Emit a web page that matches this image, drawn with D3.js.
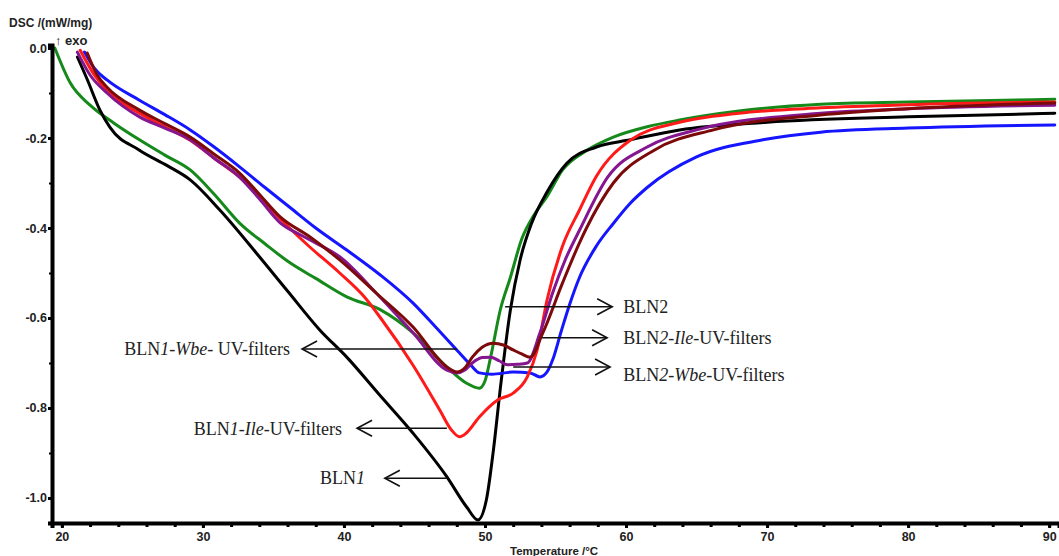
<!DOCTYPE html>
<html>
<head>
<meta charset="utf-8">
<script src="https://cdn.jsdelivr.net/npm/d3@7"></script>
<style>
  html, body { margin: 0; padding: 0; background: #fff; }
  svg { display: block; }
</style>
</head>
<body>
<svg id="chart" width="1059" height="556"></svg>
<script>
// ---------------- data ----------------
const xTickValues = [20, 30, 40, 50, 60, 70, 80, 90];
const yTickValues = [0.0, -0.2, -0.4, -0.6, -0.8, -1.0];

const blackT = [21.1, 21.8, 22.7, 23.4, 25.5, 27.5, 29.1, 31.2, 33.8, 36, 38.3, 40.2, 42.5, 44.9, 47.3, 48.7, 49.5, 50.1, 50.6, 51.1, 51.8, 52.5, 53.3, 54.4, 55.8, 57.9, 60.3, 63.8, 70, 80, 90.4];
const blackV = [-0.02, -0.07, -0.138, -0.176, -0.227, -0.262, -0.293, -0.36, -0.456, -0.54, -0.627, -0.687, -0.77, -0.856, -0.953, -1.02, -1.049, -1.004, -0.893, -0.753, -0.582, -0.47, -0.39, -0.32, -0.256, -0.22, -0.204, -0.182, -0.165, -0.153, -0.145];

const greenT = [19.5, 20.6, 22, 23.7, 25.5, 27.3, 29.1, 30.8, 32.6, 34.4, 36.2, 38, 40.2, 42.6, 44.9, 47.3, 48.7, 49.6, 50.0, 50.4, 51.1, 51.8, 52.6, 53.5, 54.4, 55.5, 57.2, 59.1, 61.5, 63.8, 68, 73.8, 80, 90.4];
const greenV = [0.0, -0.078, -0.127, -0.167, -0.204, -0.238, -0.271, -0.325, -0.389, -0.435, -0.478, -0.512, -0.553, -0.582, -0.633, -0.709, -0.745, -0.756, -0.74, -0.687, -0.58, -0.51, -0.425, -0.37, -0.33, -0.271, -0.228, -0.198, -0.175, -0.16, -0.14, -0.125, -0.12, -0.114];

const blueT = [21.6, 22.3, 23.2, 25.5, 27.3, 29.1, 30.8, 32.6, 34.4, 36.2, 38, 40.2, 42.6, 44.9, 46.5, 48.2, 49.0, 49.6, 50.5, 52, 53.2, 53.9, 54.4, 54.8, 55.4, 56, 56.7, 57.9, 59.1, 60.3, 61.5, 65, 69.7, 73.8, 80, 90.4];
const blueV = [-0.009, -0.045, -0.071, -0.116, -0.148, -0.182, -0.22, -0.264, -0.31, -0.355, -0.4, -0.449, -0.505, -0.567, -0.62, -0.678, -0.705, -0.722, -0.725, -0.72, -0.722, -0.731, -0.72, -0.693, -0.63, -0.57, -0.51, -0.44, -0.39, -0.345, -0.31, -0.242, -0.204, -0.187, -0.178, -0.171];

const redT = [21.3, 22.3, 23.2, 25.5, 27.3, 29.1, 30.8, 32.6, 34, 35.5, 37.5, 39.7, 41.5, 42.6, 44.9, 46.8, 47.6, 48.2, 48.7, 49.6, 50.9, 52, 53, 53.7, 54.4, 55.5, 56.7, 57.9, 60.3, 63.8, 68, 73.8, 80, 90.4];
const redV = [-0.005, -0.06, -0.095, -0.145, -0.175, -0.205, -0.245, -0.287, -0.33, -0.38, -0.44, -0.5, -0.555, -0.6, -0.705, -0.805, -0.848, -0.864, -0.855, -0.82, -0.782, -0.767, -0.731, -0.671, -0.56, -0.44, -0.36, -0.285, -0.205, -0.165, -0.145, -0.133, -0.126, -0.12];

const purpleT = [21.1, 22, 23.2, 25.5, 27.3, 29.1, 30.8, 32.6, 34, 35.5, 36.9, 37.8, 39.7, 42.3, 44.9, 47.3, 48, 48.6, 49.1, 49.8, 50.4, 51.0, 51.6, 52.3, 53, 53.9, 54.8, 55.7, 56.7, 58.7, 61.5, 65, 73.8, 80, 90.4];
const purpleV = [-0.009, -0.06, -0.1, -0.153, -0.178, -0.204, -0.245, -0.287, -0.335, -0.389, -0.415, -0.43, -0.464, -0.545, -0.633, -0.716, -0.722, -0.715, -0.7, -0.688, -0.687, -0.695, -0.704, -0.703, -0.7, -0.633, -0.544, -0.47, -0.405, -0.287, -0.22, -0.182, -0.145, -0.135, -0.127];

const maroonT = [21.8, 22.5, 23.2, 25.5, 27.3, 29.1, 30.8, 32.6, 34, 35.5, 37.6, 39.7, 42.3, 44.9, 47.3, 48, 48.6, 49.1, 49.8, 50.6, 51.3, 52, 52.6, 53.2, 54.1, 55.5, 56.7, 57.2, 59.1, 62, 66.2, 73.8, 80, 90.4];
const maroonV = [-0.011, -0.06, -0.087, -0.138, -0.168, -0.198, -0.236, -0.278, -0.325, -0.376, -0.42, -0.471, -0.545, -0.62, -0.709, -0.72, -0.71, -0.687, -0.665, -0.656, -0.66, -0.671, -0.68, -0.687, -0.633, -0.522, -0.433, -0.4, -0.3, -0.227, -0.182, -0.149, -0.135, -0.122];

// annotations: label parts [text, italic]; arrow from T0 to tip T1 at value v
const annoLabels = [
  [["BLN", false], ["2", false]],
  [["BLN", false], ["2-", true], ["Ile", true], ["-UV-filters", false]],
  [["BLN", false], ["2-", true], ["Wbe", true], ["-UV-filters", false]],
  [["BLN", false], ["1-", true], ["Wbe-", true], [" UV-filters", false]],
  [["BLN", false], ["1-", true], ["Ile", true], ["-UV-filters", false]],
  [["BLN", false], ["1", true]]
];
const annoFromT = [51.43, 54.05, 52.0, 48.0, 47.3, 47.3];
const annoTipT  = [59.02, 58.66, 58.87, 37.03, 40.93, 42.9];
const annoV     = [-0.575, -0.644, -0.709, -0.669, -0.845, -0.956];
const annoTextT = [59.8, 59.8, 59.8, 36.18, 39.87, 41.5];
const annoTextV = [-0.575, -0.644, -0.727, -0.669, -0.845, -0.956];

// ---------------- chart ----------------
const svg = d3.select("#chart");
const x = d3.scaleLinear().domain([19.3, 90.7]).range([52, 1059]);
const y = d3.scaleLinear().domain([0.0067, -1.0556]).range([45, 523]);

const series = [
  { t: greenT,  v: greenV,  color: "#15891a" },
  { t: blackT,  v: blackV,  color: "#000000" },
  { t: blueT,   v: blueV,   color: "#1515ff" },
  { t: redT,    v: redV,    color: "#ff1a1a" },
  { t: purpleT, v: purpleV, color: "#85168f" },
  { t: maroonT, v: maroonV, color: "#7d0a0a" }
];

const line = d3.line()
  .x(d => x(d[0]))
  .y(d => y(d[1]))
  .curve(d3.curveMonotoneX);

svg.append("g").selectAll("path")
  .data(series)
  .join("path")
  .attr("d", s => line(s.t.map((t, i) => [t, s.v[i]])))
  .attr("fill", "none")
  .attr("stroke", s => s.color)
  .attr("stroke-width", 3)
  .attr("stroke-linejoin", "round")
  .attr("stroke-linecap", "round");

// axes
const axisFont = "Arial, 'Liberation Sans', sans-serif";

const xMinor = d3.range(20, 91, 2);
const xAxisMinor = d3.axisBottom(x).tickValues(xMinor).tickSize(4).tickFormat("");
svg.append("g").attr("transform", "translate(0,523)").call(xAxisMinor)
  .call(g => g.select(".domain").remove())
  .call(g => g.selectAll("line").attr("stroke", "#000").attr("stroke-width", 3));

const xAxis = d3.axisBottom(x).tickValues(xTickValues).tickSize(5).tickPadding(4).tickFormat(d => String(d));
svg.append("g").attr("transform", "translate(0,523)").call(xAxis)
  .call(g => g.select(".domain").attr("stroke", "#000").attr("stroke-width", 4))
  .call(g => g.selectAll("line").attr("stroke", "#000").attr("stroke-width", 3))
  .call(g => g.selectAll("text").attr("font-family", axisFont).attr("font-weight", "bold")
                .attr("font-size", 12.5).attr("fill", "#222"));

const yMinor = d3.range(0, -1.05, -0.1);
const yAxisMinor = d3.axisLeft(y).tickValues(yMinor).tickSize(3).tickFormat("");
svg.append("g").attr("transform", "translate(52,0)").call(yAxisMinor)
  .call(g => g.select(".domain").remove())
  .call(g => g.selectAll("line").attr("stroke", "#000").attr("stroke-width", 2));

const yAxis = d3.axisLeft(y).tickValues(yTickValues).tickSize(4).tickPadding(1).tickFormat(d => d.toFixed(1));
svg.append("g").attr("transform", "translate(52,0)").call(yAxis)
  .call(g => g.select(".domain").attr("stroke", "#000").attr("stroke-width", 4))
  .call(g => g.selectAll("line").attr("stroke", "#000").attr("stroke-width", 3))
  .call(g => g.selectAll("text").attr("font-family", axisFont).attr("font-weight", "bold")
                .attr("font-size", 12.5).attr("fill", "#222"));

// axis titles
svg.append("text").attr("x", 9).attr("y", 27)
  .attr("font-family", axisFont).attr("font-weight", "bold").attr("font-size", 12)
  .attr("fill", "#222").text("DSC /(mW/mg)");
svg.append("text").attr("x", 55).attr("y", 45)
  .attr("font-family", axisFont).attr("font-weight", "bold").attr("font-size", 13)
  .attr("fill", "#222").text("\u2191 exo");
svg.append("text").attr("x", 510).attr("y", 555)
  .attr("font-family", axisFont).attr("font-weight", "bold").attr("font-size", 11.5)
  .attr("fill", "#222").text("Temperature /\u00B0C");

// annotations
const serif = "'Liberation Serif', 'Times New Roman', serif";
const anno = svg.append("g");
annoLabels.forEach((parts, i) => {
  const x0 = x(annoFromT[i]), x1 = x(annoTipT[i]), yy = y(annoV[i]);
  const dir = x1 > x0 ? 1 : -1;
  anno.append("line").attr("x1", x0).attr("y1", yy).attr("x2", x1).attr("y2", yy)
    .attr("stroke", "#111").attr("stroke-width", 1.6);
  anno.append("path")
    .attr("d", `M${x1 - dir * 15},${yy - 8}L${x1},${yy}L${x1 - dir * 15},${yy + 8}`)
    .attr("fill", "none").attr("stroke", "#111").attr("stroke-width", 1.6);
  const txt = anno.append("text")
    .attr("x", x(annoTextT[i])).attr("y", y(annoTextV[i]))
    .attr("dy", "0.35em")
    .attr("text-anchor", dir > 0 ? "start" : "end")
    .attr("font-family", serif).attr("font-size", 18).attr("fill", "#222");
  parts.forEach(p => {
    txt.append("tspan").attr("font-style", p[1] ? "italic" : "normal").text(p[0]);
  });
});
</script>
</body>
</html>
